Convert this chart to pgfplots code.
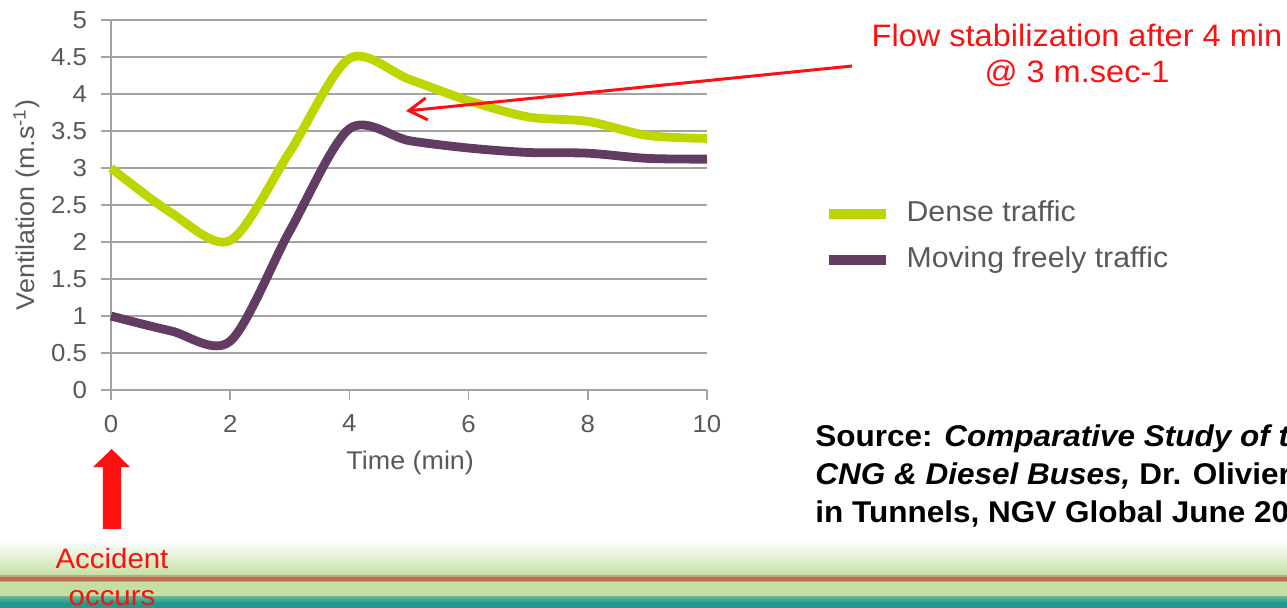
\documentclass[border=0pt]{standalone}
\usepackage{fontspec}
\setmainfont{Liberation Sans}[FakeStretch=1.05]
\usepackage{pgfplots}
\pgfplotsset{compat=1.18}
\usetikzlibrary{arrows.meta}

\definecolor{dense}{HTML}{BED600}
\definecolor{free}{HTML}{623C62}
\definecolor{gridgray}{HTML}{A3A3A3}
\definecolor{ticktext}{HTML}{595959}
\definecolor{bandgreen}{HTML}{C3DFA3}
\definecolor{bandred}{HTML}{BF6A55}
\definecolor{bandteal}{HTML}{1E9A8C}
\definecolor{alertred}{HTML}{FF1010}

\begin{document}
\begin{tikzpicture}
% page frame; one unit of the overlay scopes = 0.5pt, origin at the plot corner
\useasboundingbox (-55.5pt,195pt) rectangle (588pt,-108.5pt);
\clip (-55.5pt,195pt) rectangle (588pt,-108.5pt);

% slide footer band
\begin{scope}[shift={(-55.5pt,195pt)}, x=0.5pt, y=-0.5pt]
  \shade[top color=white, bottom color=bandgreen] (0,540) rectangle (1287,576);
  \fill[bandgreen] (0,575) rectangle (1287,598);
  \fill[bandred!50!bandgreen] (0,575) rectangle (1287,582);
  \fill[bandred] (0,576.5) rectangle (1287,580.5);
  \shade[top color=bandgreen!45!bandteal, bottom color=bandteal] (0,596) rectangle (1287,603);
  \fill[bandteal] (0,603) rectangle (1287,608);
\end{scope}

\begin{axis}[
  at={(0,0)}, anchor=south west,
  scale only axis, width=298pt, height=185pt,
  xmin=0, xmax=10, ymin=0, ymax=5,
  clip=false,
  axis x line=bottom, axis y line=left,
  axis line style={-, gridgray, line width=0.8pt},
  xtick={0,2,...,10},
  ytick={0,0.5,...,5},
  yticklabels={0,0.5,1,1.5,2,2.5,3,3.5,4,4.5,5},
  tick align=outside,
  major tick length=5pt,
  tick style={gridgray, line width=0.8pt},
  ymajorgrids,
  grid style={gridgray, line width=0.8pt},
  /pgf/number format/assume math mode=true,
  ticklabel style={text=ticktext, font=\fontsize{12.3}{14}\selectfont},
  xticklabel style={yshift=-4pt},
  yticklabel style={xshift=-3.5pt},
  xlabel={Time (min)},
  ylabel={Ventilation (m.s\textsuperscript{-1})},
  label style={text=ticktext, font=\fontsize{12.8}{15}\selectfont},
  xlabel style={at={(axis description cs:0.502,-0.197)}, anchor=center},
  ylabel style={at={(axis description cs:-0.142,0.5)}, anchor=center},
  legend style={at={(axis description cs:1.195,0.4135)}, anchor=west,
    draw=none, fill=none, inner sep=0pt, text=ticktext,
    font=\fontsize{14.4}{17}\selectfont,
    row sep=9.5pt, column sep=8pt,
    nodes={inner sep=0pt, text height=10.5pt, text depth=3pt}},
  legend cell align=left,
  legend image code/.code={\draw[#1, line width=5pt] (0pt,0pt) -- (28.5pt,0pt);},
]
\addplot[dense, line width=4.4pt, smooth] coordinates {
  (0,3.0) (1,2.4) (2,2.02) (3,3.22) (4,4.48) (5,4.2)
  (6,3.91) (7,3.69) (8,3.63) (9,3.44) (10,3.4)
};
\addlegendentry{Dense traffic}
\addplot[free, line width=4.4pt, smooth] coordinates {
  (0,1.0) (1,0.8) (2,0.66) (3,2.15) (4,3.53) (5,3.37)
  (6,3.27) (7,3.21) (8,3.2) (9,3.13) (10,3.12)
};
\addlegendentry{Moving freely traffic}
\end{axis}

% annotations
\begin{scope}[shift={(-55.5pt,195pt)}, x=0.5pt, y=-0.5pt]
  \draw[alertred, line width=1.5pt, -{Straight Barb[length=9pt, width=11pt]}]
    (852,66) -- (406,111);
  \node[alertred, anchor=base, font=\fontsize{15.5}{18}\selectfont] at (1077,46)
    {Flow stabilization after 4 min};
  \node[alertred, anchor=base, font=\fontsize{15.5}{18}\selectfont] at (1077,82)
    {@ 3 m.sec-1};
  % upward block arrow
  \fill[alertred] (103,529) -- (103,467) -- (93,467) -- (111.7,449)
    -- (130,467) -- (121,467) -- (121,529) -- cycle;
  \node[alertred, anchor=base, font=\fontsize{14}{16}\selectfont] at (112,568) {Accident};
  \node[alertred, anchor=base, font=\fontsize{14}{16}\selectfont] at (112,605) {occurs};
  % source
  \begin{scope}[every node/.style={anchor=base west, inner sep=0pt,
      font=\fontsize{15}{18}\selectfont\bfseries}]
    \node at (815,446) {Source: \textit{Comparative Study of the Safety of}};
    \node at (815,484) {\textit{CNG \& Diesel Buses,} Dr. Olivier Bernard};
    \node at (815,522) {in Tunnels, NGV Global June 2012};
  \end{scope}
\end{scope}
\end{tikzpicture}
\end{document}
